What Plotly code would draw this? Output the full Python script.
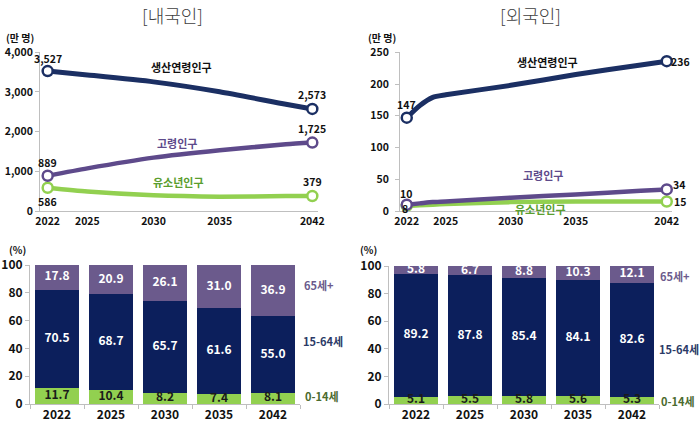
import plotly.graph_objects as go

# ---------------- data ----------------
kor_years = [2022, 2025, 2030, 2035, 2040, 2042]
kor_working = [3527, 3430, 3255, 3005, 2690, 2573]
kor_elderly = [889, 1075, 1345, 1530, 1680, 1725]
kor_youth = [586, 490, 395, 362, 375, 379]

for_years = [2022, 2023, 2024, 2025, 2030, 2035, 2040, 2042]
for_working = [147, 166, 179, 183, 198, 215, 230, 236]
for_elderly = [10, 12, 14, 15, 21, 26, 32, 34]
for_youth = [8, 9, 10, 11, 14, 15, 15, 15]

line_tick_years = [2022, 2025, 2030, 2035, 2042]

bar_years = ["2022", "2025", "2030", "2035", "2042"]
kor_pct_youth = [11.7, 10.4, 8.2, 7.4, 8.1]
kor_pct_working = [70.5, 68.7, 65.7, 61.6, 55.0]
kor_pct_elderly = [17.8, 20.9, 26.1, 31.0, 36.9]
for_pct_youth = [5.1, 5.5, 5.8, 5.6, 5.3]
for_pct_working = [89.2, 87.8, 85.4, 84.1, 82.6]
for_pct_elderly = [5.8, 6.7, 8.8, 10.3, 12.1]

FONT = "Noto Sans CJK KR"
NAVY_L = "#1B2F63"
PURP_L = "#5E4A8B"
GREEN = "#92D050"
NAVY_B = "#0C1F5C"
PURP_B = "#6B5A8C"
AXC = "#BFBFBF"

fig = go.Figure()

def add_lines(xa, ya, years, series):
    for vals, col, w in series:
        fig.add_trace(go.Scatter(x=years, y=vals, mode="lines", xaxis=xa, yaxis=ya,
                                 line=dict(color=col, width=w, shape="spline", smoothing=0.6),
                                 showlegend=False, hoverinfo="skip"))
        fig.add_trace(go.Scatter(x=[years[0], years[-1]], y=[vals[0], vals[-1]], mode="markers",
                                 xaxis=xa, yaxis=ya, cliponaxis=False,
                                 marker=dict(size=10, color="white", line=dict(color=col, width=2.5)),
                                 showlegend=False, hoverinfo="skip"))

add_lines("x", "y", kor_years, [(kor_youth, GREEN, 4.5), (kor_elderly, PURP_L, 4.5), (kor_working, NAVY_L, 5)])
add_lines("x2", "y2", for_years, [(for_youth, GREEN, 4.5), (for_elderly, PURP_L, 4.5), (for_working, NAVY_L, 5)])

def add_bars(xa, ya, youth, working, elderly):
    for vals, col in [(youth, GREEN), (working, NAVY_B), (elderly, PURP_B)]:
        fig.add_trace(go.Bar(x=bar_years, y=vals, xaxis=xa, yaxis=ya, marker=dict(color=col, line=dict(width=0)),
                             showlegend=False, hoverinfo="skip"))
    # labels at segment centres
    mids_y = [v / 2 for v in youth]
    mids_w = [y + w / 2 for y, w in zip(youth, working)]
    mids_e = [y + w + e / 2 for y, w, e in zip(youth, working, elderly)]
    for mids, vals, col in [(mids_y, youth, "#1A1A1A"), (mids_w, working, "white"), (mids_e, elderly, "white")]:
        fig.add_trace(go.Scatter(x=bar_years, y=mids, mode="text", xaxis=xa, yaxis=ya, cliponaxis=False,
                                 text=[f"{v:.1f}" for v in vals],
                                 textfont=dict(family=FONT, size=12, color=col, weight="bold"),
                                 showlegend=False, hoverinfo="skip"))

add_bars("x3", "y3", kor_pct_youth, kor_pct_working, kor_pct_elderly)
add_bars("x4", "y4", for_pct_youth, for_pct_working, for_pct_elderly)

tickf = dict(family=FONT, size=10.5, color="#111111", weight="bold")
tickf_b = dict(family=FONT, size=12, color="#111111", weight="bold")

line_x = dict(showgrid=False, zeroline=False, showline=True, linecolor=AXC, linewidth=1,
              tickvals=line_tick_years, ticktext=[str(t) for t in line_tick_years],
              tickfont=tickf, ticks="", automargin=False)
line_y = dict(showgrid=False, zeroline=False, showline=True, linecolor=AXC, linewidth=1,
              ticks="outside", ticklen=4, tickcolor=AXC, tickfont=tickf, automargin=False)

fig.update_layout(
    width=700, height=434, margin=dict(l=0, r=0, t=0, b=0, autoexpand=False),
    paper_bgcolor="white", plot_bgcolor="white",
    font=dict(family=FONT),
    barmode="stack", bargap=0.167,
    xaxis=dict(line_x, domain=[40/700, 318/700], range=[2021.42, 2042.43], anchor="y"),
    yaxis=dict(line_y, domain=[1-211/434, 1-52.3/434], range=[0, 4000], tickvals=[0, 1000, 2000, 3000, 4000],
               tickformat=",", anchor="x"),
    xaxis2=dict(line_x, domain=[400/700, 671.7/700], range=[2021.48, 2042.38], anchor="y2"),
    yaxis2=dict(line_y, domain=[1-211/434, 1-52.3/434], range=[0, 250], tickvals=[0, 50, 100, 150, 200, 250],
                anchor="x2", ticklabelstandoff=4),
    xaxis3=dict(domain=[30/700, 300/700], anchor="y3", showgrid=False, showline=True, linecolor=AXC,
                ticks="outside", tickson="boundaries", ticklen=4, tickcolor=AXC, tickfont=tickf_b,
                automargin=False),
    yaxis3=dict(domain=[1-404/434, 1-265/434], range=[0, 100], anchor="x3", showgrid=False, zeroline=False,
                showline=True, linecolor=AXC, ticks="outside", ticklen=4, tickcolor=AXC, dtick=20,
                tickfont=tickf_b, automargin=False),
    xaxis4=dict(domain=[389/700, 659/700], anchor="y4", showgrid=False, showline=True, linecolor=AXC,
                ticks="outside", tickson="boundaries", ticklen=4, tickcolor=AXC, tickfont=tickf_b,
                automargin=False),
    yaxis4=dict(domain=[1-404/434, 1-266/434], range=[0, 100], anchor="x4", showgrid=False, zeroline=False,
                showline=True, linecolor=AXC, ticks="outside", ticklen=4, tickcolor=AXC, dtick=20,
                tickfont=tickf_b, automargin=False),
)

ann = []
numf = dict(family=FONT, size=10.5, color="#111111", weight="bold")

def val_label(xr, yr, x, y, xs=0, ys=0):
    ann.append(dict(xref=xr, yref=yr, x=x, y=y, text=f"{y:,}", showarrow=False, xshift=xs, yshift=ys,
                    font=numf, xanchor="center", yanchor="middle"))

# 내국인 value labels
val_label("x", "y", kor_years[0], kor_working[0], 0, 13)
val_label("x", "y", kor_years[-1], kor_working[-1], 0, 14)
val_label("x", "y", kor_years[-1], kor_elderly[-1], 0, 14)
val_label("x", "y", kor_years[0], kor_elderly[0], 0, 13)
val_label("x", "y", kor_years[0], kor_youth[0], 0, -14)
val_label("x", "y", kor_years[-1], kor_youth[-1], 0, 14)
# 외국인 value labels
val_label("x2", "y2", for_years[0], for_working[0], 0, 13)
val_label("x2", "y2", for_years[-1], for_working[-1], 14, 0)
val_label("x2", "y2", for_years[-1], for_elderly[-1], 12, 5)
val_label("x2", "y2", for_years[-1], for_youth[-1], 13, 0)
val_label("x2", "y2", for_years[0], for_elderly[0], -1, 11)
val_label("x2", "y2", for_years[0], for_youth[0], -2, -3)

serf = lambda c: dict(family=FONT, size=11, color=c, weight="bold")
def ser(xr, yr, x, y, t, c):
    return dict(xref=xr, yref=yr, x=x, y=y, text=t, showarrow=False, font=serf(c),
                xanchor="center", yanchor="middle")
ann += [
    ser("x", "y", 2032.15, 3618, "생산연령인구", "#111111"),
    ser("x", "y", 2031.8, 1707, "고령인구", PURP_L),
    ser("x", "y", 2031.85, 739, "유소년인구", "#5A9E2F"),
    ser("x2", "y2", 2032.8, 234.6, "생산연령인구", "#111111"),
    ser("x2", "y2", 2032.5, 56.7, "고령인구", PURP_L),
    ser("x2", "y2", 2032.25, 3.1, "유소년인구", "#5A9E2F"),
]

def pap(x, y, t, font, xa="center"):
    return dict(xref="paper", yref="paper", x=x/700, y=1-y/434, text=t, showarrow=False, font=font,
                xanchor=xa, yanchor="middle")

titf = dict(family=FONT, size=18, color="#404040", weight=300)
unitf = dict(family=FONT, size=10, color="#111111", weight="bold")
ann += [
    pap(172, 15, "[내국인]", titf),
    pap(530, 15, "[외국인]", titf),
    pap(20, 37, "(만 명)", unitf),
    pap(382, 37, "(만 명)", unitf),
    pap(17, 250, "(%)", unitf),
    pap(368, 249, "(%)", unitf),
]

segf = lambda c: dict(family=FONT, size=11, color=c, weight="bold")
for x0, ys in [(302, (285, 341, 396)), (658, (276, 349, 401))]:
    ann += [
        pap(x0, ys[0], "65세+", segf(PURP_B), "left"),
        pap(x0 - 1, ys[1], "15-64세", segf("#2B3A67"), "left"),
        pap(x0 + 1, ys[2], "0-14세", segf("#4B6B2E"), "left"),
    ]

fig.update_layout(annotations=ann)
fig.write_html("out.html")
